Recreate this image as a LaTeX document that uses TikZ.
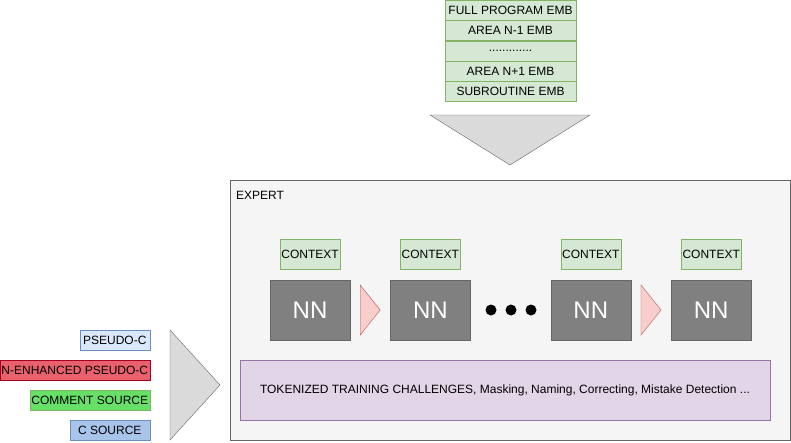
\documentclass[tikz,border=0pt]{standalone}
\usepackage{fontspec}
\setmainfont{Liberation Sans}
\usetikzlibrary{positioning,calc}
\definecolor{embfill}{HTML}{D5E8D4}
\definecolor{embline}{HTML}{82B366}
\definecolor{expfill}{HTML}{F5F5F5}
\definecolor{expline}{HTML}{666666}
\definecolor{nngray}{HTML}{808080}
\definecolor{linkfill}{HTML}{F8CECC}
\definecolor{linkline}{HTML}{B85450}
\definecolor{taskfill}{HTML}{E1D5E7}
\definecolor{taskline}{HTML}{9673A6}
\definecolor{funnelgray}{HTML}{DADADA}
\definecolor{pseudofill}{HTML}{DAE8FC}
\definecolor{blueline}{HTML}{6C8EBF}
\definecolor{enhfill}{HTML}{E9616C}
\definecolor{enhline}{HTML}{A20025}
\definecolor{commfill}{HTML}{66E066}
\definecolor{csrcfill}{HTML}{A9C4EB}

\begin{document}
\begin{tikzpicture}[
  x=1pt, y=-1pt,
  font=\fontsize{12}{14}\selectfont,
  embrow/.style={draw=embline, fill=embfill, minimum width=131pt,
                 minimum height=20pt, inner sep=0pt},
  ctxbox/.style={draw=embline, fill=embfill, minimum width=60pt,
                 minimum height=30pt, inner sep=0pt},
  nnbox/.style={draw=expline, fill=nngray, text=white, minimum width=80pt,
                minimum height=60pt, inner sep=0pt, font=\fontsize{24}{28}\selectfont},
  srcbox/.style={draw, anchor=east, minimum height=20pt, inner sep=1pt},
  funnel/.style={draw=expline, fill=funnelgray},
  link/.style={draw=linkline, fill=linkfill}
]
\useasboundingbox (0,0) rectangle (791,442);

% embedding stack
\node[embrow] (fullemb) at (510.5,10) {FULL PROGRAM EMB};
\node[embrow, below=0pt of fullemb] (prevemb) {AREA N-1 EMB};
\node[embrow, below=0pt of prevemb] (gapemb) {.............};
\node[embrow, below=0pt of gapemb] (nextemb) {AREA N+1 EMB};
\node[embrow, below=0pt of nextemb] (subemb) {SUBROUTINE EMB};
\draw[funnel] (430,115) -- (590,115) -- (510,165) -- cycle;

% expert
\node[draw=expline, fill=expfill, minimum width=560pt, minimum height=260pt,
      inner sep=0pt] (expert) at (510,310) {};
\node[anchor=west, inner sep=0pt] (expertlbl) at (236,195) {EXPERT};

\node[nnbox] (nn1) at (310,310) {NN};
\node[nnbox, right=40pt of nn1] (nn2) {NN};
\node[nnbox, right=80pt of nn2] (nn3) {NN};
\node[nnbox, right=40pt of nn3] (nn4) {NN};
\foreach \n in {1,...,4}
  \node[ctxbox, above=10pt of nn\n] (ctx\n) {CONTEXT};
\foreach \n in {1,3}
  \draw[link] ($(nn\n.east)+(10,-25)$) -- ($(nn\n.east)+(30,0)$)
    -- ($(nn\n.east)+(10,25)$) -- cycle;
\foreach \x in {491,511,531}
  \fill (\x,310) circle (5.5pt);

\node[draw=taskline, fill=taskfill, minimum width=530pt, minimum height=60pt,
      inner sep=0pt] (tasks) at (505,390)
  {TOKENIZED TRAINING CHALLENGES, Masking, Naming, Correcting, Mistake Detection ...};

% sources
\node[srcbox, draw=blueline, fill=pseudofill, minimum width=70pt] (pseudo) at (150,340) {PSEUDO-C};
\node[srcbox, draw=enhline, fill=enhfill, minimum width=150pt] (enhanced) at (150,370) {N-ENHANCED PSEUDO-C};
\node[srcbox, draw=embline, fill=commfill, minimum width=120pt] (comment) at (150,400) {COMMENT SOURCE};
\node[srcbox, draw=blueline, fill=csrcfill, minimum width=80pt] (csource) at (150,430) {C SOURCE};
\draw[funnel] (170,330) -- (220,385) -- (170,440) -- cycle;
\end{tikzpicture}
\end{document}
